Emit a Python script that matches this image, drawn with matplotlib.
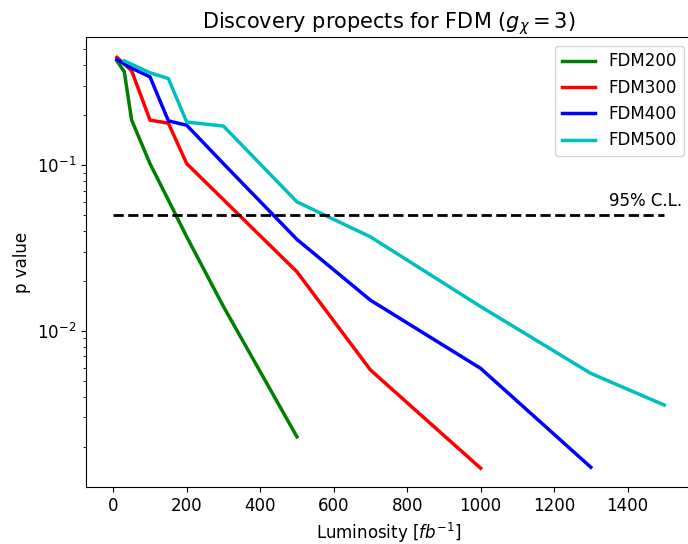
import matplotlib
matplotlib.use('Agg')
import matplotlib.pyplot as plt

# luminosity points and p values for each mass point
lumi_200 = [10, 30, 50, 100, 150, 200, 300, 500]
p_200 = [0.426, 0.366, 0.187, 0.102, 0.0615, 0.0369, 0.0140, 0.00229]

lumi_300 = [10, 50, 100, 150, 200, 500, 700, 1000]
p_300 = [0.447, 0.371, 0.187, 0.179, 0.102, 0.0227, 0.0058, 0.00148]

lumi_400 = [10, 50, 100, 150, 200, 300, 500, 700, 1000, 1300]
p_400 = [0.434, 0.385, 0.341, 0.185, 0.174, 0.102, 0.0356, 0.0153, 0.00593, 0.0015]

lumi_500 = [30, 100, 150, 200, 300, 500, 700, 1000, 1300, 1500]
p_500 = [0.426, 0.361, 0.333, 0.182, 0.172, 0.060, 0.0369, 0.0140, 0.00553, 0.00356]

cl_x = [0, 1500]
cl_y = [0.05, 0.05]

fig = plt.figure(figsize=(6.88, 5.44), dpi=100)
ax = fig.add_axes([0.1246, 0.1042, 0.881, 0.827])

ax.plot(lumi_200, p_200, color='g', lw=2.5, label='FDM200')
ax.plot(lumi_300, p_300, color='r', lw=2.5, label='FDM300')
ax.plot(lumi_400, p_400, color='b', lw=2.5, label='FDM400')
ax.plot(lumi_500, p_500, color='c', lw=2.5, label='FDM500')
ax.plot(cl_x, cl_y, 'k--', lw=2)
ax.text(1350, 0.0568, '95% C.L.', fontsize=12, va='baseline')

ax.set_yscale('log')
ax.set_xlim(-75, 1575)
ax.set_ylim(0.001135, 0.59)
ax.set_xticks([0, 200, 400, 600, 800, 1000, 1200, 1400])
ax.tick_params(labelsize=12)

ax.set_xlabel('Luminosity [$fb^{-1}$]', fontsize=12)
ax.set_ylabel('p value', fontsize=12)
ax.set_title('Discovery propects for FDM ($g_\\chi = 3$)', fontsize=15)
ax.legend(loc='upper right', fontsize=12)

fig.savefig('out.png', dpi=100)
